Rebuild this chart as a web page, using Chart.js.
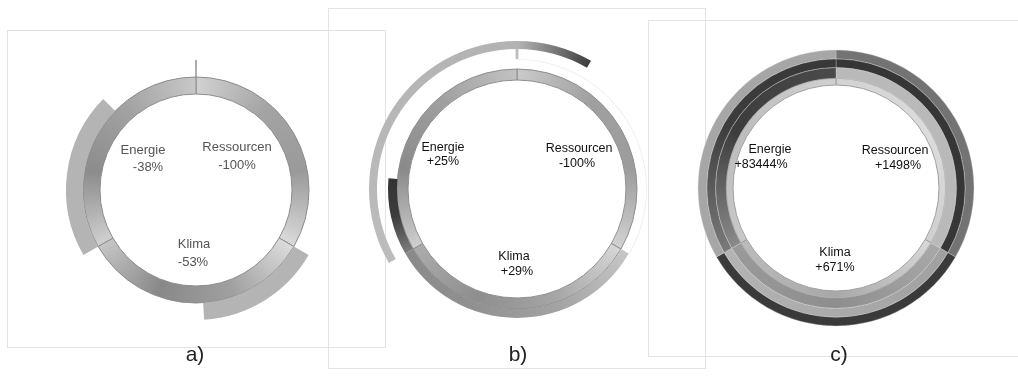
<!DOCTYPE html>
<html>
<head>
<meta charset="utf-8">
<script src="https://cdn.jsdelivr.net/npm/chart.js@4"></script>
<style>
  body { margin: 0; background: #fff; }
  #wrap { position: relative; width: 1018px; height: 387px; overflow: hidden; font-family: "Liberation Sans", Arial, sans-serif; }
  .frame { position: absolute; border: 1px solid #e3e3e3; box-sizing: border-box; }
  .panel { position: absolute; }
  .tag { position: absolute; font-size: 21px; color: #222; transform: translateX(-50%); }
</style>
</head>
<body>
<div id="wrap">
  <div class="frame" style="left:7px;top:30px;width:379px;height:318px"></div>
  <div class="frame" style="left:328px;top:8px;width:378px;height:361px"></div>
  <div class="frame" style="left:648px;top:20px;width:380px;height:337px"></div>
  <canvas id="chartA" class="panel" width="320" height="320" style="left:36px;top:30px"></canvas>
  <canvas id="chartB" class="panel" width="320" height="320" style="left:357px;top:29px"></canvas>
  <canvas id="chartC" class="panel" width="320" height="320" style="left:676px;top:28px"></canvas>
</div>
<script>
// data
const categories = ['Ressourcen', 'Klima', 'Energie'];
const changeA = [-100, -53, -38];
const changeB = [-100, 29, 25];
const changeC = [1498, 671, 83444];
const panelTags = ['a)', 'b)', 'c)'];
const tagX = [195, 518, 839];

const SEG = 360 / categories.length;

// label offsets from ring centre: [nameDx, nameDy, valueDx, valueDy]
const labelPosA = [[41, -43, 41, -25], [-2, 54, -3, 72], [-53, -40, -48, -23]];
const labelPosB = [[62, -40, 60, -25], [-3, 68, 0, 83], [-74, -41, -74, -27]];
const labelPosC = [[59, -37, 62, -22], [-1, 65, -1, 80], [-66, -38, -75, -23]];

function fmt(p) { return (p > 0 ? '+' : '') + p + '%'; }

// turns a list of arcs (degrees from top, clockwise) into doughnut data with empty gaps
function ringData(arcs) {
  const pieces = [];
  arcs.forEach(a => {
    let from = a.from, to = a.to;
    if (to - from <= 0) return;
    if (from >= 360) { from -= 360; to -= 360; }
    if (from < 0) { from += 360; to += 360; }
    if (to > 360) {
      pieces.push({ from: from, to: 360, color: a.color });
      pieces.push({ from: 0, to: to - 360, color: a.color });
    } else {
      pieces.push({ from: from, to: to, color: a.color });
    }
  });
  pieces.sort((p, q) => p.from - q.from);
  const data = [], colors = [];
  let pos = 0;
  pieces.forEach(p => {
    if (p.from > pos + 1e-6) { data.push(p.from - pos); colors.push(null); }
    data.push(p.to - p.from);
    colors.push(p);
    pos = p.to;
  });
  if (pos < 360 - 1e-6) { data.push(360 - pos); colors.push(null); }
  return { data, colors };
}

function paint(ctx, c) {
  if (!c) return 'rgba(0,0,0,0)';
  if (typeof c.color === 'string') return c.color;
  const area = ctx.chart.chartArea;
  if (!area) return c.color[0];
  const cx = (area.left + area.right) / 2, cy = (area.top + area.bottom) / 2;
  const g = ctx.chart.ctx.createConicGradient(-Math.PI / 2, cx, cy);
  const n = c.color.length;
  c.color.forEach((col, i) => {
    g.addColorStop(Math.min(1, Math.max(0, (c.from + (c.to - c.from) * i / (n - 1)) / 360)), col);
  });
  return g;
}

function ring(arcs, weight, border) {
  const r = ringData(arcs);
  return {
    data: r.data,
    weight: weight,
    borderWidth: border ? border.width : 0,
    borderColor: ctx => (border && r.colors[ctx.dataIndex]) ? border.color : 'rgba(0,0,0,0)',
    backgroundColor: ctx => paint(ctx, r.colors[ctx.dataIndex])
  };
}

// base ring: one arc per category
function baseArcs(colors) {
  return categories.map((c, i) => ({ from: i * SEG, to: (i + 1) * SEG, color: colors[i] }));
}

// band of one category: main part up to 100 %, overflow beyond it
function bandArcs(i, change, mainColor, overColor) {
  const frac = 1 + change[i] / 100;
  const start = i * SEG;
  const arcs = [];
  arcs.push({ from: start, to: start + SEG * Math.min(frac, 1), color: mainColor });
  if (frac > 1) arcs.push({ from: start + SEG, to: start + SEG * frac, color: overColor });
  return arcs;
}

function labelPlugin(change, pos, font, color) {
  return {
    id: 'ringLabels',
    afterDraw(chart) {
      const { ctx, chartArea } = chart;
      const cx = (chartArea.left + chartArea.right) / 2;
      const cy = (chartArea.top + chartArea.bottom) / 2;
      ctx.save();
      ctx.font = font;
      ctx.fillStyle = color;
      ctx.textAlign = 'center';
      ctx.textBaseline = 'middle';
      categories.forEach((name, i) => {
        const p = pos[i];
        ctx.fillText(name, cx + p[0], cy + p[1]);
        ctx.fillText(fmt(change[i]), cx + p[2], cy + p[3]);
      });
      ctx.restore();
    }
  };
}

// cutout is given to Chart.js as a share of the outer radius
function makeChart(id, datasets, radius, inner, plugin) {
  return new Chart(document.getElementById(id), {
    type: 'doughnut',
    data: { labels: [], datasets: datasets },
    options: {
      responsive: false,
      animation: false,
      radius: radius,
      cutout: (inner / radius * 100) + '%',
      events: [],
      plugins: { legend: { display: false }, tooltip: { enabled: false } }
    },
    plugins: [plugin]
  });
}

// a)
const baseColorsA = [
  ['#d2d2d2', '#a4a4a4', '#9a9a9a', '#dadada'],
  ['#dcdcdc', '#a0a0a0', '#888888', '#c6c6c6'],
  ['#d0d0d0', '#8c8c8c', '#a2a2a2', '#c8c8c8']
];
let bandA = [{ from: -0.25, to: 0.25, color: '#6a6a6a' }];
categories.forEach((c, i) => { bandA = bandA.concat(bandArcs(i, changeA, '#b4b4b4', '#b4b4b4')); });
makeChart('chartA', [
  ring(bandA, 17),
  ring(baseArcs(baseColorsA), 17, { width: 1, color: '#8c8c8c' })
], 130, 96, labelPlugin(changeA, labelPosA, '13px "Liberation Sans", Arial, sans-serif', '#555'));

// b)
const baseColorsB = [
  ['#cacaca', '#a0a0a0', '#9c9c9c', '#d2d2d2'],
  ['#d6d6d6', '#a6a6a6', '#8e8e8e', '#acacac'],
  ['#cfcfcf', '#8a8a8a', '#a0a0a0', '#c2c2c2']
];
const mainB = ['#b6b6b6', ['#c6c6c6', '#a4a4a4', '#909090', '#8a8a8a'], ['#bcbcbc', '#b2b2b2']];
const overB = ['#b6b6b6', ['#7c7c7c', '#3c3c3c', '#333333'], ['#b4b4b4', '#7a7a7a', '#3c3c3c']];
makeChart('chartB', [
  ring(bandArcs(2, changeB, mainB[2], overB[2]), 8),
  ring([{ from: -0.6, to: 0.6, color: '#bdbdbd' }], 10),
  ring([{ from: 0, to: SEG, color: '#efefef' }], 1),
  ring(bandArcs(1, changeB, mainB[1], overB[1]), 9),
  ring(baseArcs(baseColorsB), 11, { width: 1, color: '#8e8e8e' })
], 148, 109, labelPlugin(changeB, labelPosB, '12.5px "Liberation Sans", Arial, sans-serif', '#111'));

// c)
const layerColorsC = [
  ['#737373', '#3a3a3a', '#a6a6a6'],
  ['#363636', ['#a0a0a0', '#b4b4b4'], ['#7a7a7a', '#3c3c3c', '#383838']],
  ['#b9b9b9', ['#a8a8a8', '#8e8e8e', '#9a9a9a'], ['#8a8a8a', '#3c3c3c', '#4a4a4a']],
  [['#d2d2d2', '#dcdcdc', '#cfcfcf'], ['#d8d8d8', '#a8a8a8', '#bcbcbc'], ['#c8c8c8', '#bdbdbd', '#d0d0d0']]
];
const weightsC = [9, 9, 11, 7];
makeChart('chartC', layerColorsC.map((cols, k) =>
  ring(baseArcs(cols), weightsC[k], k === 3 ? { width: 1, color: '#a0a0a0' } : { width: 0.6, color: 'rgba(210,210,210,0.6)' })
), 138, 103, labelPlugin(changeC, labelPosC, '12.5px "Liberation Sans", Arial, sans-serif', '#111'));

// panel tags
const wrap = document.getElementById('wrap');
panelTags.forEach((t, i) => {
  const d = document.createElement('div');
  d.className = 'tag';
  d.textContent = t;
  d.style.left = tagX[i] + 'px';
  d.style.top = '342px';
  wrap.appendChild(d);
});
</script>
</body>
</html>
